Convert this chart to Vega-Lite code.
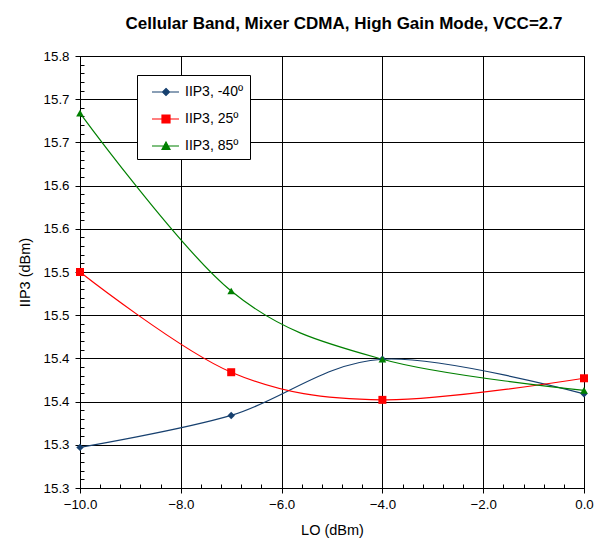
{
  "$schema": "https://vega.github.io/schema/vega-lite/v6.json",
  "autosize": {"type": "none"},
  "padding": {"left": 80, "top": 56, "right": 24, "bottom": 58},
  "width": 504,
  "height": 432,
  "background": "white",
  "title": {
    "text": "Cellular Band, Mixer CDMA, High Gain Mode, VCC=2.7",
    "font": "Liberation Sans",
    "fontSize": 17,
    "fontWeight": "bold",
    "color": "black",
    "anchor": "middle",
    "offset": 16,
    "dx": 12
  },
  "config": {
    "view": {"stroke": "black", "strokeWidth": 1},
    "axis": {
      "labelFont": "Liberation Sans",
      "titleFont": "Liberation Sans",
      "labelFontSize": 13.3,
      "titleFontSize": 14.5,
      "titleFontWeight": "normal",
      "labelColor": "black",
      "titleColor": "black",
      "domainColor": "black",
      "tickColor": "black",
      "gridColor": "black",
      "gridOpacity": 1,
      "gridWidth": 1,
      "labelFlush": false
    },
    "legend": {
      "orient": "none",
      "legendX": 57,
      "legendY": 19,
      "title": null,
      "fillColor": "white",
      "strokeColor": "black",
      "padding": 6,
      "symbolSize": 400,
      "labelOffset": 20,
      "rowPadding": 9,
      "labelFont": "Liberation Sans",
      "labelFontSize": 14,
      "labelColor": "black",
      "symbolStrokeWidth": 1.2,
      "symbolOpacity": 1
    }
  },
  "data": {
    "values": [
      {"lo": -10, "iip3": 15.347, "series": "IIP3, -40º"},
      {"lo": -7, "iip3": 15.384, "series": "IIP3, -40º"},
      {"lo": -4, "iip3": 15.449, "series": "IIP3, -40º"},
      {"lo": 0, "iip3": 15.409, "series": "IIP3, -40º"},
      {"lo": -10, "iip3": 15.55, "series": "IIP3, 25º"},
      {"lo": -7, "iip3": 15.434, "series": "IIP3, 25º"},
      {"lo": -4, "iip3": 15.402, "series": "IIP3, 25º"},
      {"lo": 0, "iip3": 15.427, "series": "IIP3, 25º"},
      {"lo": -10, "iip3": 15.734, "series": "IIP3, 85º"},
      {"lo": -7, "iip3": 15.528, "series": "IIP3, 85º"},
      {"lo": -4, "iip3": 15.449, "series": "IIP3, 85º"},
      {"lo": 0, "iip3": 15.413, "series": "IIP3, 85º"}
    ]
  },
  "resolve": {"axis": {"x": "independent", "y": "independent"}},
  "layer": [
    {
      "mark": {"type": "line", "interpolate": "cardinal", "strokeWidth": 1.2},
      "encoding": {
        "x": {
          "field": "lo", "type": "quantitative",
          "scale": {"domain": [-10, 0], "nice": false, "zero": false},
          "axis": {
            "orient": "bottom",
            "values": [-10, -9.6, -9.2, -8.8, -8.4, -8, -7.6, -7.2, -6.8, -6.4, -6, -5.6, -5.2, -4.8, -4.4, -4, -3.6, -3.2, -2.8, -2.4, -2, -1.6, -1.2, -0.8, -0.4, 0],
            "labels": false, "grid": false, "domain": false, "title": null, "tickSize": -4
          }
        },
        "y": {
          "field": "iip3", "type": "quantitative",
          "scale": {"domain": [15.3, 15.8], "nice": false, "zero": false},
          "axis": {
            "orient": "left",
            "values": [15.3, 15.31, 15.32, 15.33, 15.34, 15.35, 15.36, 15.37, 15.38, 15.39, 15.4, 15.41, 15.42, 15.43, 15.44, 15.45, 15.46, 15.47, 15.48, 15.49, 15.5, 15.51, 15.52, 15.53, 15.54, 15.55, 15.56, 15.57, 15.58, 15.59, 15.6, 15.61, 15.62, 15.63, 15.64, 15.65, 15.66, 15.67, 15.68, 15.69, 15.7, 15.71, 15.72, 15.73, 15.74, 15.75, 15.76, 15.77, 15.78, 15.79, 15.8],
            "labels": false, "grid": false, "domain": false, "title": null, "tickSize": -4
          }
        },
        "color": {
          "field": "series", "type": "nominal",
          "scale": {"domain": ["IIP3, -40º", "IIP3, 25º", "IIP3, 85º"], "range": ["#17406F", "#FF0000", "#008000"]},
          "legend": {
            "encode": {
              "symbols": {
                "update": {
                  "shape": {"signal": "datum.index === 0 ? 'M-0.2,0H2.5M1.2,-0.35L1.55,0L1.2,0.35L0.85,0Z' : datum.index === 1 ? 'M-0.2,0H2.5M0.8,-0.4H1.6V0.4H0.8Z' : 'M-0.2,0H2.5M1.2,-0.4L1.6,0.35H0.8Z'"},
                  "fill": {"scale": "color", "field": "value"},
                  "stroke": {"scale": "color", "field": "value"},
                  "opacity": {"value": 1}
                }
              }
            }
          }
        }
      }
    },
    {
      "transform": [{"filter": "datum.series === 'IIP3, -40º'"}],
      "mark": {"type": "point", "filled": true, "opacity": 1, "shape": "diamond", "size": 55},
      "encoding": {
        "x": {
          "field": "lo", "type": "quantitative",
          "scale": {"domain": [-10, 0], "nice": false, "zero": false},
          "axis": {
            "orient": "bottom",
            "values": [-10, -8, -6, -4, -2, 0],
            "format": ".1f",
            "grid": true,
            "tickSize": 5,
            "labelPadding": 4,
            "title": "LO (dBm)",
            "titlePadding": 13
          }
        },
        "y": {
          "field": "iip3", "type": "quantitative",
          "scale": {"domain": [15.3, 15.8], "nice": false, "zero": false},
          "axis": {
            "orient": "left",
            "values": [15.3, 15.35, 15.4, 15.45, 15.5, 15.55, 15.6, 15.65, 15.7, 15.75, 15.8],
            "labelExpr": "format(floor(datum.value * 10 + 0.000001) / 10, '.1f')",
            "grid": true,
            "tickSize": 5,
            "labelPadding": 6,
            "title": "IIP3 (dBm)",
            "titlePadding": 11
          }
        },
        "color": {
          "field": "series", "type": "nominal",
          "scale": {"domain": ["IIP3, -40º", "IIP3, 25º", "IIP3, 85º"], "range": ["#17406F", "#FF0000", "#008000"]},
          "legend": {
            "encode": {
              "symbols": {
                "update": {
                  "shape": {"signal": "datum.index === 0 ? 'M-0.2,0H2.5M1.2,-0.35L1.55,0L1.2,0.35L0.85,0Z' : datum.index === 1 ? 'M-0.2,0H2.5M0.8,-0.4H1.6V0.4H0.8Z' : 'M-0.2,0H2.5M1.2,-0.4L1.6,0.35H0.8Z'"},
                  "fill": {"scale": "color", "field": "value"},
                  "stroke": {"scale": "color", "field": "value"},
                  "opacity": {"value": 1}
                }
              }
            }
          }
        }
      }
    },
    {
      "transform": [{"filter": "datum.series === 'IIP3, 25º'"}],
      "mark": {"type": "point", "filled": true, "opacity": 1, "shape": "square", "size": 64},
      "encoding": {
        "x": {"field": "lo", "type": "quantitative", "scale": {"domain": [-10, 0], "nice": false, "zero": false}, "axis": null},
        "y": {"field": "iip3", "type": "quantitative", "scale": {"domain": [15.3, 15.8], "nice": false, "zero": false}, "axis": null},
        "color": {
          "field": "series", "type": "nominal",
          "scale": {"domain": ["IIP3, -40º", "IIP3, 25º", "IIP3, 85º"], "range": ["#17406F", "#FF0000", "#008000"]},
          "legend": {
            "encode": {
              "symbols": {
                "update": {
                  "shape": {"signal": "datum.index === 0 ? 'M-0.2,0H2.5M1.2,-0.35L1.55,0L1.2,0.35L0.85,0Z' : datum.index === 1 ? 'M-0.2,0H2.5M0.8,-0.4H1.6V0.4H0.8Z' : 'M-0.2,0H2.5M1.2,-0.4L1.6,0.35H0.8Z'"},
                  "fill": {"scale": "color", "field": "value"},
                  "stroke": {"scale": "color", "field": "value"},
                  "opacity": {"value": 1}
                }
              }
            }
          }
        }
      }
    },
    {
      "transform": [{"filter": "datum.series === 'IIP3, 85º'"}],
      "mark": {"type": "point", "filled": true, "opacity": 1, "shape": "triangle-up", "size": 60},
      "encoding": {
        "x": {"field": "lo", "type": "quantitative", "scale": {"domain": [-10, 0], "nice": false, "zero": false}, "axis": null},
        "y": {"field": "iip3", "type": "quantitative", "scale": {"domain": [15.3, 15.8], "nice": false, "zero": false}, "axis": null},
        "color": {
          "field": "series", "type": "nominal",
          "scale": {"domain": ["IIP3, -40º", "IIP3, 25º", "IIP3, 85º"], "range": ["#17406F", "#FF0000", "#008000"]},
          "legend": {
            "encode": {
              "symbols": {
                "update": {
                  "shape": {"signal": "datum.index === 0 ? 'M-0.2,0H2.5M1.2,-0.35L1.55,0L1.2,0.35L0.85,0Z' : datum.index === 1 ? 'M-0.2,0H2.5M0.8,-0.4H1.6V0.4H0.8Z' : 'M-0.2,0H2.5M1.2,-0.4L1.6,0.35H0.8Z'"},
                  "fill": {"scale": "color", "field": "value"},
                  "stroke": {"scale": "color", "field": "value"},
                  "opacity": {"value": 1}
                }
              }
            }
          }
        }
      }
    }
  ]
}
